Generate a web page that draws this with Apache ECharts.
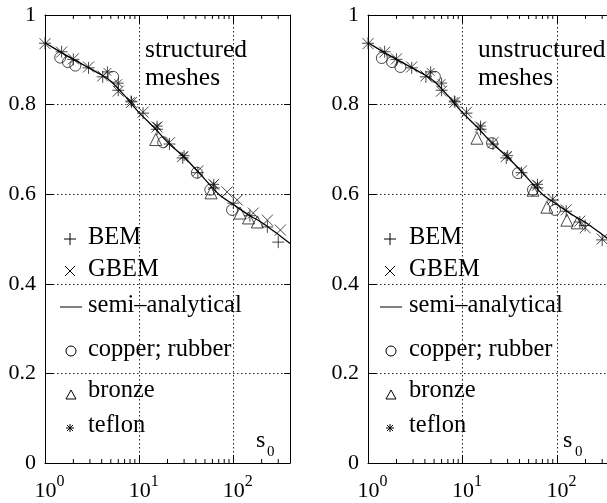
<!DOCTYPE html>
<html><head><meta charset="utf-8">
<script src="https://cdn.jsdelivr.net/npm/echarts@6/dist/echarts.min.js"></script>
<style>html,body{margin:0;padding:0;background:#fff}#c{width:607px;height:503px}</style>
</head><body><div id="c"></div>
<script>
// ---- data (x = s0, y = value) ----
const curveX = [1, 1.5, 2, 3, 4, 5, 7, 10, 15, 20, 30, 50, 70, 100, 150, 200, 300, 400];
const curveY = [0.938, 0.916, 0.901, 0.881, 0.866, 0.852, 0.820, 0.782, 0.745, 0.716, 0.683, 0.633, 0.600, 0.577, 0.552, 0.537, 0.510, 0.490];

// structured meshes
const bemX_s  = [1, 1.5, 2, 2.9, 4.1, 6, 8.3, 11, 15.5, 21, 29, 42, 62, 100, 150, 230, 300];
const bemY_s  = [0.937, 0.918, 0.901, 0.882, 0.862, 0.832, 0.806, 0.781, 0.745, 0.712, 0.681, 0.648, 0.614, 0.580, 0.552, 0.527, 0.493];
const gbemX_s = [1, 1.5, 2, 2.9, 4.1, 6, 8.3, 11, 15.5, 21, 29, 42, 62, 86, 110, 163, 230, 316];
const gbemY_s = [0.936, 0.917, 0.902, 0.884, 0.864, 0.830, 0.805, 0.783, 0.750, 0.715, 0.684, 0.652, 0.622, 0.605, 0.587, 0.558, 0.542, 0.520];
const copX_s  = [1.45, 1.75, 2.1, 5.3, 18, 41, 57, 97];
const copY_s  = [0.905, 0.895, 0.887, 0.862, 0.716, 0.648, 0.610, 0.565];
const brX_s   = [15, 58, 118, 145, 180];
const brY_s   = [0.722, 0.603, 0.558, 0.547, 0.538];
const tfX_s   = [4.6, 6, 8.2, 15.5, 30, 62];
const tfY_s   = [0.873, 0.848, 0.808, 0.752, 0.686, 0.622];

// unstructured meshes
const bemX_u  = [1, 1.5, 2, 2.9, 4.1, 6, 8.3, 11, 15.5, 21, 29, 42, 62, 90, 125, 174, 198, 300];
const bemY_u  = [0.937, 0.918, 0.901, 0.882, 0.862, 0.832, 0.806, 0.781, 0.745, 0.712, 0.681, 0.648, 0.614, 0.587, 0.562, 0.538, 0.530, 0.498];
const gbemX_u = [1, 1.5, 2, 2.9, 4.1, 6, 8.3, 11, 15.5, 21, 29, 42, 62, 90, 125, 174, 198, 300];
const gbemY_u = [0.936, 0.917, 0.902, 0.884, 0.864, 0.830, 0.805, 0.783, 0.750, 0.715, 0.684, 0.652, 0.620, 0.589, 0.565, 0.540, 0.525, 0.500];
const copX_u  = [1.4, 1.8, 2.2, 5.1, 20.5, 38.6, 55.6, 95];
const copY_u  = [0.904, 0.895, 0.884, 0.862, 0.714, 0.647, 0.610, 0.565];
const brX_u   = [14.2, 55.6, 78, 127, 163];
const brY_u   = [0.725, 0.609, 0.571, 0.542, 0.536];
const tfX_u   = [4.6, 6, 8.2, 15.5, 30, 62];
const tfY_u   = [0.873, 0.848, 0.808, 0.752, 0.686, 0.622];

const minorTicks = [2,3,4,5,6,7,8,9,20,30,40,50,60,70,80,90,200,300];

const zip = (xs, ys) => xs.map((x, i) => [x, ys[i]]);

const FONT = '"Liberation Serif", "DejaVu Serif", "Times New Roman", Times, serif';
const chart = echarts.init(document.getElementById('c'));

const grids = [
  {left: 45, top: 15, width: 245, height: 448, outerBoundsMode: 'none', containLabel: false},
  {left: 368, top: 15, width: 246, height: 448, outerBoundsMode: 'none', containLabel: false}
];
const dotted = {show: true, lineStyle: {color: '#222', width: 1, type: [1.5, 2.5]}};
const axLine = {show: true, onZero: false, lineStyle: {color: '#000', width: 1}};

const xAxes = [], yAxes = [], series = [];
const SYM = {
  plus: 'path://M0,5L10,5M5,0L5,10',
  cross: 'path://M0,0L10,10M10,0L0,10',
  star: 'path://M0,5L10,5M5,0L5,10M1.5,1.5L8.5,8.5M8.5,1.5L1.5,8.5',
  tri: 'path://M5,0L10,8.66L0,8.66Z'
};
const panels = [
  {bx: bemX_s, by: bemY_s, gx: gbemX_s, gy: gbemY_s, cx: copX_s, cy: copY_s, rx: brX_s, ry: brY_s, tx: tfX_s, ty: tfY_s},
  {bx: bemX_u, by: bemY_u, gx: gbemX_u, gy: gbemY_u, cx: copX_u, cy: copY_u, rx: brX_u, ry: brY_u, tx: tfX_u, ty: tfY_u}
];

panels.forEach((p, i) => {
  xAxes.push({
    type: 'log', logBase: 10, min: 1, max: 400, gridIndex: i, position: 'bottom',
    axisLine: axLine, axisTick: {show: true, inside: true, length: 8, lineStyle: {color: '#000'}},
    splitLine: dotted,
    axisLabel: {
      margin: 11, showMaxLabel: false,
      formatter: v => {
        const e = Math.round(Math.log10(v));
        if (Math.abs(Math.pow(10, e) - v) > 1e-6) return '';
        return '{b|10}{s|' + e + '}';
      },
      rich: {
        b: {fontFamily: FONT, fontSize: 22, color: '#000', lineHeight: 28, verticalAlign: 'bottom', padding: [0, 0, 0, 9]},
        s: {fontFamily: FONT, fontSize: 16, color: '#000', lineHeight: 16, verticalAlign: 'top'}
      }
    }
  });
  xAxes.push({
    type: 'log', logBase: 10, min: 1, max: 400, gridIndex: i, position: 'top',
    axisLine: axLine, axisTick: {show: true, inside: true, length: 8, lineStyle: {color: '#000'}},
    splitLine: {show: false}, axisLabel: {show: false}
  });
  yAxes.push({
    type: 'value', min: 0, max: 1, interval: 0.2, gridIndex: i, position: 'left',
    axisLine: axLine, axisTick: {show: true, inside: true, length: 8, lineStyle: {color: '#000'}},
    splitLine: dotted,
    axisLabel: {fontFamily: FONT, fontSize: 22, color: '#000', margin: 9,
      formatter: v => (v === 0 ? '0' : v === 1 ? '1' : v.toFixed(1))}
  });
  yAxes.push({
    type: 'value', min: 0, max: 1, interval: 0.2, gridIndex: i, position: 'right',
    axisLine: axLine, axisTick: {show: true, inside: true, length: 6, lineStyle: {color: '#000'}},
    splitLine: {show: false}, axisLabel: {show: false}
  });
  const xi = 2 * i, yi = 2 * i;
  series.push({
    type: 'custom', xAxisIndex: xi, yAxisIndex: yi, silent: true, clip: false,
    data: minorTicks.map(v => [v, 0]),
    renderItem: (params, api) => {
      const x = api.value(0);
      const b = api.coord([x, 0]), t = api.coord([x, 1]);
      return {type: 'group', children: [
        {type: 'line', shape: {x1: b[0], y1: b[1], x2: b[0], y2: b[1] - 4}, style: {stroke: '#000', lineWidth: 1}},
        {type: 'line', shape: {x1: t[0], y1: t[1], x2: t[0], y2: t[1] + 4}, style: {stroke: '#000', lineWidth: 1}}
      ]};
    }
  });
  series.push({
    name: 'semi-analytical', type: 'line', xAxisIndex: xi, yAxisIndex: yi, smooth: 0.3,
    showSymbol: false, data: zip(curveX, curveY), lineStyle: {color: '#000', width: 1.3}, silent: true
  });
  const mk = (name, sym, size, xs, ys) => ({
    name, type: 'scatter', xAxisIndex: xi, yAxisIndex: yi, symbol: sym, symbolSize: size,
    data: zip(xs, ys), silent: true,
    itemStyle: {color: 'rgba(0,0,0,0)', borderColor: '#1a1a1a', borderWidth: 1}
  });
  series.push(mk('BEM', SYM.plus, 12, p.bx, p.by));
  series.push(mk('GBEM', SYM.cross, 11, p.gx, p.gy));
  series.push(mk('copper; rubber', 'circle', 11, p.cx, p.cy));
  series.push(mk('bronze', SYM.tri, 12, p.rx, p.ry));
  series.push(mk('teflon', SYM.star, 11, p.tx, p.ty));
});

// ---- text / legend graphics ----
const graphic = [];
const txt = (x, y, s, size) => ({type: 'text', x, y, silent: true,
  style: {text: s, fontFamily: FONT, fontSize: size, fill: '#000', verticalAlign: 'middle', align: 'left'}});
const ln = (x1, y1, x2, y2) => ({type: 'line', silent: true, shape: {x1, y1, x2, y2}, style: {stroke: '#000', lineWidth: 1}});

function legendAt(cx, lx) {
  const rows = [[238, 'BEM'], [270, 'GBEM'], [306, 'semi\u2013analytical'], [350, 'copper; rubber'], [391, 'bronze'], [426, 'teflon']];
  rows.forEach(r => graphic.push(txt(lx, r[0], r[1], 24.5)));
  graphic.push(ln(cx - 6, 239, cx + 6, 239), ln(cx, 233, cx, 245));
  graphic.push(ln(cx - 5, 266, cx + 5, 276), ln(cx + 5, 266, cx - 5, 276));
  graphic.push(ln(cx - 10, 307, cx + 12, 307));
  graphic.push({type: 'circle', silent: true, shape: {cx: cx + 1, cy: 351, r: 5}, style: {fill: 'none', stroke: '#000', lineWidth: 1}});
  graphic.push({type: 'polygon', silent: true, shape: {points: [[cx + 1, 390], [cx + 6, 399], [cx - 4, 399]]}, style: {fill: 'none', stroke: '#000', lineWidth: 1}});
  graphic.push(ln(cx - 4, 428, cx + 4, 428), ln(cx, 424, cx, 432), ln(cx - 3, 425, cx + 3, 431), ln(cx + 3, 425, cx - 3, 431));
}
legendAt(70, 88);
legendAt(390, 409);

graphic.push(txt(145, 50, 'structured', 25.5), txt(145, 78, 'meshes', 25.5));
graphic.push(txt(478, 50, 'unstructured', 25.5), txt(478, 78, 'meshes', 25.5));
graphic.push(txt(256, 441, 's', 24), txt(267, 452, '0', 15));
graphic.push(txt(563, 441, 's', 24), txt(575, 452, '0', 15));

chart.setOption({
  animation: false,
  backgroundColor: '#fff',
  grid: grids,
  xAxis: xAxes,
  yAxis: yAxes,
  series,
  graphic
});
</script>
</body></html>
